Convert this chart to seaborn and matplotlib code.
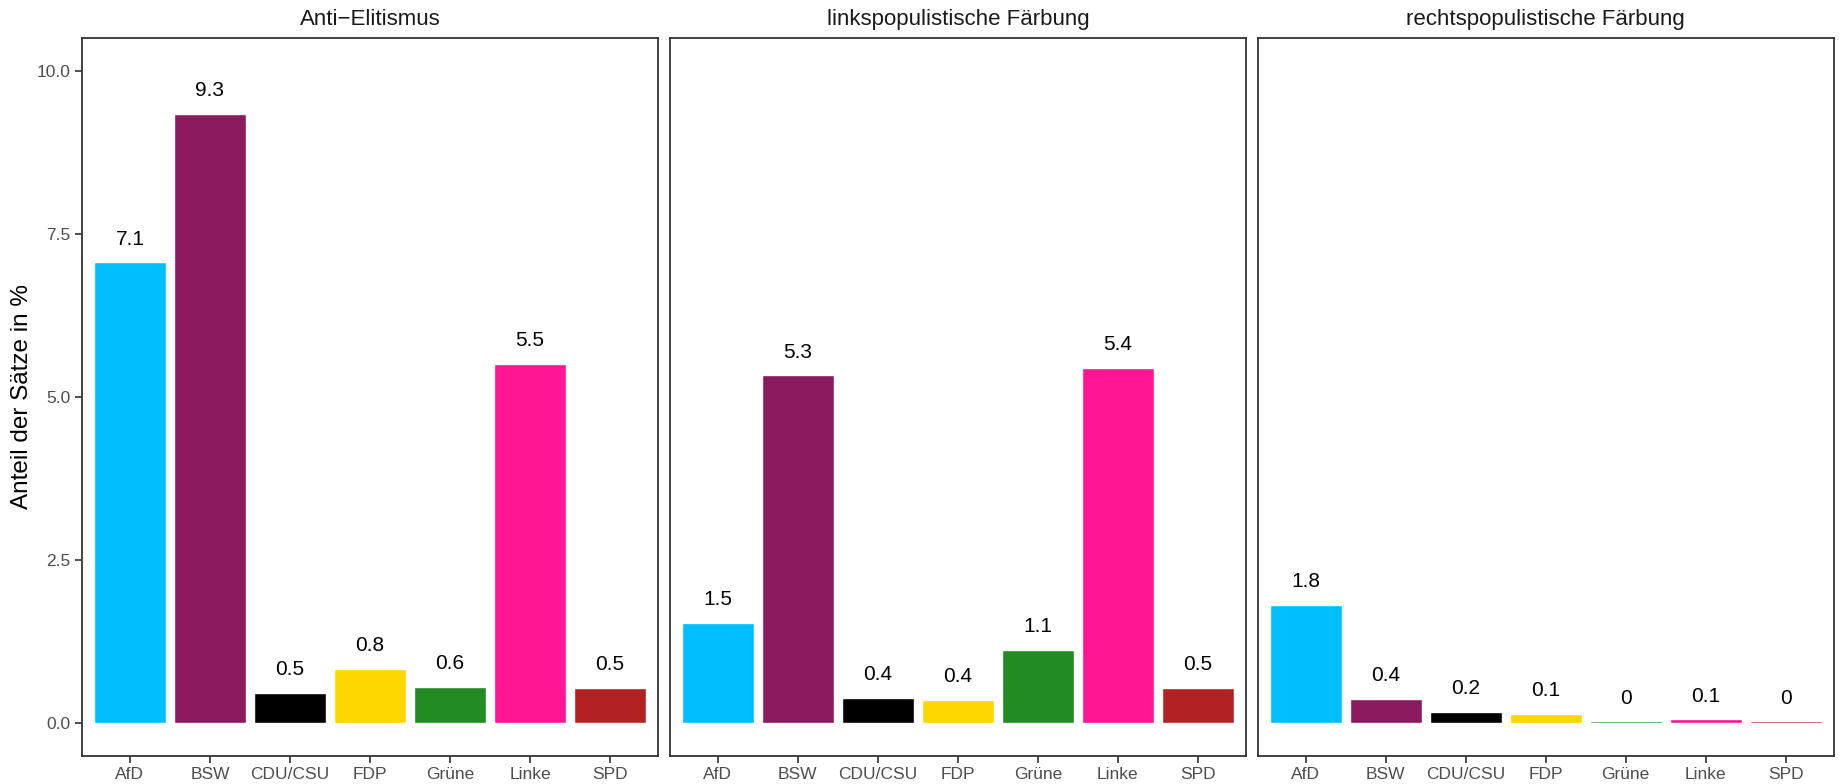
import numpy as np
import pandas as pd
import matplotlib
matplotlib.use("Agg")
import matplotlib.pyplot as plt
import seaborn as sns

parteien = ["AfD", "BSW", "CDU/CSU", "FDP", "Grüne", "Linke", "SPD"]
farben = ["#00BFFF", "#8B1A5E", "#000000", "#FFD700", "#228B22", "#FF1493", "#B22222"]

panels = ["Anti\u2212Elitismus", "linkspopulistische Färbung", "rechtspopulistische Färbung"]
anti_elitismus = [7.06, 9.33, 0.47, 0.84, 0.56, 5.51, 0.54]
linkspop = [1.54, 5.33, 0.39, 0.36, 1.12, 5.44, 0.54]
rechtspop = [1.81, 0.38, 0.17, 0.14, 0.03, 0.06, 0.03]

y_ticks = [0.0, 2.5, 5.0, 7.5, 10.0]

df = pd.DataFrame({
    "Partei": parteien * 3,
    "Dimension": np.repeat(panels, len(parteien)),
    "Anteil": anti_elitismus + linkspop + rechtspop,
})

sns.set_theme(style="white")
plt.rcParams["font.family"] = ["Liberation Sans", "DejaVu Sans"]

fig = plt.figure(figsize=(18.41, 7.84), dpi=100, facecolor="white")

w = 0.3130
gap = 0.0063
left0 = 0.0445
bottom = 0.0357
height = 0.916

palette = dict(zip(parteien, farben))

for i, dim in enumerate(panels):
    ax = fig.add_axes([left0 + i * (w + gap), bottom, w, height])
    sub = df[df["Dimension"] == dim]
    sns.barplot(data=sub, x="Partei", y="Anteil", hue="Partei", order=parteien,
                palette=palette, width=0.9, legend=False, ax=ax, saturation=1)
    labels = [f"{round(v, 1):g}" for v in sub["Anteil"]]
    for cont, lab in zip(ax.containers, labels):
        ax.bar_label(cont, labels=[lab], padding=10, fontsize=15, color="black")
    ax.set_xlim(-0.6, 6.6)
    ax.set_ylim(-0.5, 10.5)
    ax.set_title(dim, fontsize=16, color="#1A1A1A", pad=9)
    ax.set_xlabel("")
    for s in ax.spines.values():
        s.set_color("#333333")
        s.set_linewidth(1.3)
    ax.tick_params(axis="x", length=5, width=1.2, color="#333333",
                   labelsize=12.5, labelcolor="#4D4D4D", pad=3, bottom=True)
    if i == 0:
        ax.set_yticks(y_ticks)
        ax.set_yticklabels([f"{t:.1f}" for t in y_ticks])
        ax.tick_params(axis="y", length=5, width=1.2, color="#333333",
                       labelsize=12.5, labelcolor="#4D4D4D", pad=3, left=True)
        ax.set_ylabel("Anteil der Sätze in %", fontsize=17.5, color="black", labelpad=3)
    else:
        ax.set_yticks([])
        ax.set_ylabel("")
    ax.grid(False)

fig.savefig("out.png", dpi=100, facecolor="white")
